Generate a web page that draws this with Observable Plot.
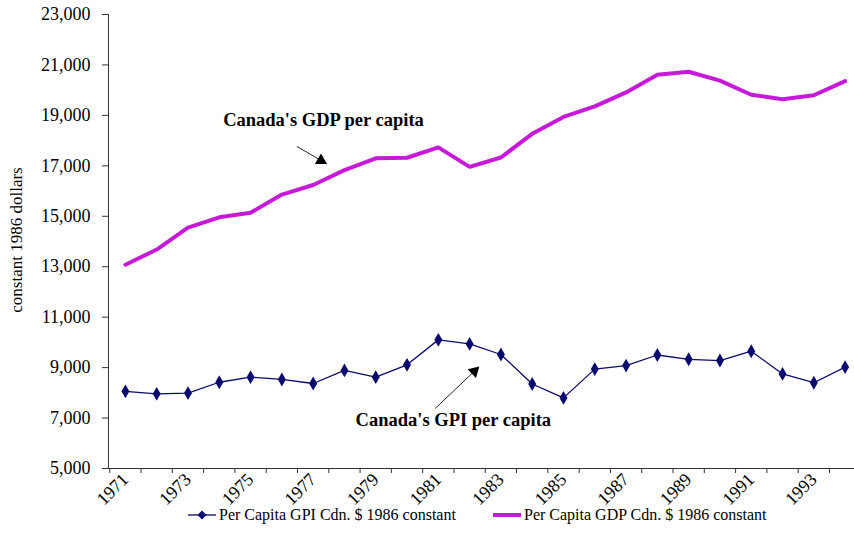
<!DOCTYPE html>
<html><head><meta charset="utf-8">
<script src="https://cdn.jsdelivr.net/npm/d3@7"></script>
<script src="https://cdn.jsdelivr.net/npm/@observablehq/plot@0.6"></script>
<style>
body{margin:0;background:#fff;overflow:hidden;font-family:"Liberation Serif","Times New Roman",serif;}
#wrap{position:relative;width:854px;height:550px;}
#legend{position:absolute;left:0;top:506px;width:854px;height:40px;font-size:16px;color:#000;}
.item{position:absolute;top:0;display:flex;align-items:center;white-space:nowrap;}
.item svg{margin-right:3px;}
</style></head><body>
<div id="wrap"><div id="chart"></div><div id="legend"></div></div>
<script>
const years = [1971,1972,1973,1974,1975,1976,1977,1978,1979,1980,1981,1982,1983,1984,1985,1986,1987,1988,1989,1990,1991,1992,1993,1994];
const gpi = [8060,7960,7990,8420,8620,8530,8370,8890,8620,9110,10100,9940,9520,8350,7800,8940,9080,9500,9330,9280,9650,8750,8400,9020];
const gdp = [13080,13680,14550,14960,15140,15860,16240,16830,17300,17320,17730,16960,17330,18270,18940,19360,19910,20610,20730,20380,19820,19640,19800,20360];
const yTicks = [5000,7000,9000,11000,13000,15000,17000,19000,21000,23000];
const labelYears = [1971,1973,1975,1977,1979,1981,1983,1985,1987,1989,1991,1993];
const tickBounds = [1970.5,1971.5,1972.5,1973.5,1974.5,1975.5,1976.5,1977.5,1978.5,1979.5,1980.5,1981.5,1982.5,1983.5,1984.5,1985.5,1986.5,1987.5,1988.5,1989.5,1990.5,1991.5,1992.5,1993.5];
const seriesNames = ["Per Capita GPI Cdn. $ 1986 constant","Per Capita GDP Cdn. $ 1986 constant"];
const labels = [
  {text:"Canada's GDP per capita", x:1977.33, y:18800},
  {text:"Canada's GPI per capita", x:1981.48, y:6900}
];
const arrows = [
  {x1:1976.48, y1:17770, x2:1977.36, y2:17130, hx:1977.25, hy:17212, rot:120},
  {x1:1980.90, y1:7380, x2:1982.25, y2:8965, hx:1982.15, hy:8854, rot:46}
];

const gpiData = years.map((y,i)=>({year:y, v:gpi[i]}));
const gdpData = years.map((y,i)=>({year:y, v:gdp[i]}));
const GPI_COLOR = "#0a0a6e", GDP_COLOR = "#c61ad8";

const chart = Plot.plot({
  width: 854, height: 550,
  marginLeft: 108, marginRight: 0, marginTop: 14, marginBottom: 82,
  x: {domain: [1970.46, 1994.3], axis: null},
  y: {domain: [5000, 23000], axis: null},
  style: {fontFamily: "'Liberation Serif','Times New Roman',serif", fontSize: "18px", color: "#000", background: "#fff"},
  marks: [
    Plot.axisY({ticks: yTicks, tickSize: 6, tickPadding: 12, tickFormat: d3.format(","), label: null, stroke: "#333", fontSize: 18}),
    Plot.axisX({ticks: tickBounds, tickSize: 5, tickFormat: () => "", label: null, stroke: "#333"}),
    Plot.axisX({ticks: labelYears, tickSize: 0, tickPadding: 8, tickRotate: -45, tickFormat: d => String(d), label: null, fontSize: 18}),
    Plot.ruleX([1970.46], {stroke: "#333"}),
    Plot.ruleY([5000], {stroke: "#333"}),
    Plot.line(gdpData, {x: "year", y: "v", stroke: GDP_COLOR, strokeWidth: 4}),
    Plot.line(gpiData, {x: "year", y: "v", stroke: GPI_COLOR, strokeWidth: 1.3}),
    Plot.dot(gpiData, {x: "year", y: "v", symbol: "diamond", fill: GPI_COLOR, r: 4.2}),
    Plot.text(labels, {x: "x", y: "y", text: "text", fontWeight: "bold", fontSize: 18.5, fill: "#000"}),
    Plot.link(arrows, {x1: "x1", y1: "y1", x2: "hx", y2: "hy", stroke: "#222", strokeWidth: 1}),
    Plot.dot(arrows, {x: "hx", y: "hy", symbol: "triangle", fill: "#000", r: 4.5, rotate: "rot"})
  ]
});
document.getElementById("chart").appendChild(chart);

// y-axis title
const svg = d3.select(chart);
svg.append("text").attr("transform","translate(18,240) rotate(-90)")
  .attr("text-anchor","middle").attr("dominant-baseline","middle")
  .attr("font-size",17).attr("fill","#000").text("constant 1986 dollars");

// legend
const lg = d3.select("#legend");
const it1 = lg.append("div").attr("class","item").style("left","188px");
const s1 = it1.append("svg").attr("width",28).attr("height",12);
s1.append("line").attr("x1",0).attr("x2",28).attr("y1",6).attr("y2",6).attr("stroke",GPI_COLOR).attr("stroke-width",1.3);
s1.append("path").attr("d","M14,1.5L18.5,6L14,10.5L9.5,6Z").attr("fill",GPI_COLOR);
it1.append("span").text(seriesNames[0]);
const it2 = lg.append("div").attr("class","item").style("left","493px");
const s2 = it2.append("svg").attr("width",28).attr("height",12);
s2.append("line").attr("x1",0).attr("x2",28).attr("y1",6).attr("y2",6).attr("stroke",GDP_COLOR).attr("stroke-width",4);
it2.append("span").text(seriesNames[1]);
</script>
</body></html>
